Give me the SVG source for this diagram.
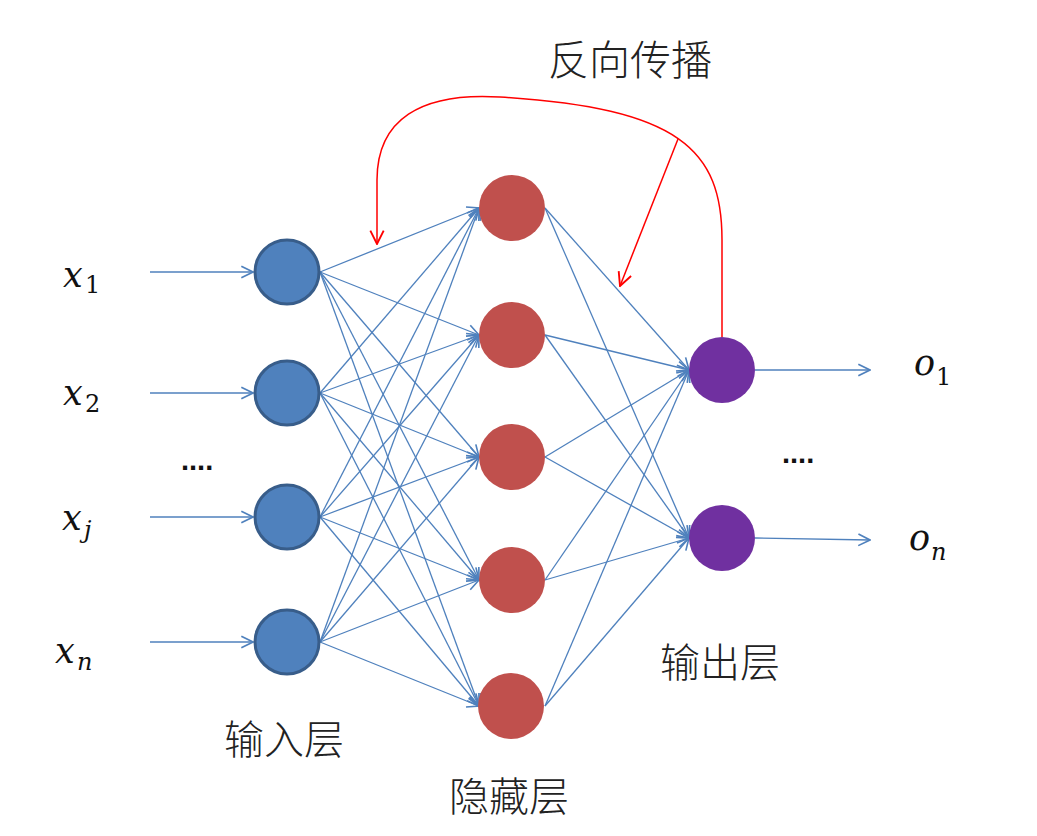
<svg xmlns="http://www.w3.org/2000/svg" width="1037" height="836" viewBox="0 0 1037 836">
<defs>
<marker id="ab" markerUnits="userSpaceOnUse" markerWidth="14" markerHeight="14" viewBox="0 0 12 12" refX="11" refY="6" orient="auto">
<path d="M1,1 L11,6 L1,11" fill="none" stroke="#4f81bd" stroke-width="1.4"/>
</marker>
<marker id="ar" markerUnits="userSpaceOnUse" markerWidth="16" markerHeight="16" viewBox="0 0 12 12" refX="11" refY="6" orient="auto">
<path d="M1,1 L11,6 L1,11" fill="none" stroke="#ff0000" stroke-width="1.4"/>
</marker>
<style>
.c{stroke:#4f81bd;stroke-width:1.3;fill:none;marker-end:url(#ab)}
.r{stroke:#ff0000;stroke-width:1.5;fill:none;marker-end:url(#ar)}
.in{fill:#4f81bd;stroke:#385d8a;stroke-width:3}
.hid{fill:#c0504d}
.out{fill:#7030a0}
.m{font-family:"DejaVu Serif","Liberation Serif",serif;font-style:italic;fill:#111}
.big{font-size:35px}
.sub{font-size:24px}
.up{font-style:normal}
.lab{font-family:"Noto Sans CJK SC","Noto Sans",sans-serif;font-size:40px;font-weight:300;fill:#222;text-anchor:middle}
.dots{font-family:"Liberation Sans",sans-serif;font-size:29px;font-weight:bold;fill:#111}
</style>
</defs>
<rect width="1037" height="836" fill="#ffffff"/>
<g id="connectors">
<line class="c" x1="150" y1="272" x2="253" y2="272"/>
<line class="c" x1="150" y1="393" x2="253" y2="393"/>
<line class="c" x1="150" y1="517" x2="253" y2="517"/>
<line class="c" x1="150" y1="642" x2="253" y2="642"/>
<line class="c" x1="320" y1="272" x2="479" y2="208"/>
<line class="c" x1="320" y1="272" x2="479" y2="335"/>
<line class="c" x1="320" y1="272" x2="479" y2="457"/>
<line class="c" x1="320" y1="272" x2="479" y2="580"/>
<line class="c" x1="320" y1="272" x2="479" y2="706"/>
<line class="c" x1="320" y1="393" x2="479" y2="208"/>
<line class="c" x1="320" y1="393" x2="479" y2="335"/>
<line class="c" x1="320" y1="393" x2="479" y2="457"/>
<line class="c" x1="320" y1="393" x2="479" y2="580"/>
<line class="c" x1="320" y1="393" x2="479" y2="706"/>
<line class="c" x1="320" y1="517" x2="479" y2="208"/>
<line class="c" x1="320" y1="517" x2="479" y2="335"/>
<line class="c" x1="320" y1="517" x2="479" y2="457"/>
<line class="c" x1="320" y1="517" x2="479" y2="580"/>
<line class="c" x1="320" y1="517" x2="479" y2="706"/>
<line class="c" x1="320" y1="642" x2="479" y2="208"/>
<line class="c" x1="320" y1="642" x2="479" y2="335"/>
<line class="c" x1="320" y1="642" x2="479" y2="457"/>
<line class="c" x1="320" y1="642" x2="479" y2="580"/>
<line class="c" x1="320" y1="642" x2="479" y2="706"/>
<line class="c" x1="545" y1="208" x2="689" y2="370"/>
<line class="c" x1="545" y1="208" x2="689" y2="538"/>
<line class="c" x1="545" y1="335" x2="689" y2="370"/>
<line class="c" x1="545" y1="335" x2="689" y2="538"/>
<line class="c" x1="545" y1="457" x2="689" y2="370"/>
<line class="c" x1="545" y1="457" x2="689" y2="538"/>
<line class="c" x1="545" y1="580" x2="689" y2="370"/>
<line class="c" x1="545" y1="580" x2="689" y2="538"/>
<line class="c" x1="545" y1="706" x2="689" y2="370"/>
<line class="c" x1="545" y1="706" x2="689" y2="538"/>
<line class="c" x1="755" y1="370" x2="870" y2="370"/>
<line class="c" x1="755" y1="538" x2="870" y2="540"/>
<path class="r" d="M722,337 L722,240 C722,150 680,108 500,97 C420,92 377,120 377,180 L377,244"/>
<line class="r" x1="678" y1="139" x2="620" y2="286"/>
</g>
<g id="in1"><circle class="in" cx="287" cy="272" r="32"/></g>
<g id="in2"><circle class="in" cx="287" cy="393" r="32"/></g>
<g id="in3"><circle class="in" cx="287" cy="517" r="32"/></g>
<g id="in4"><circle class="in" cx="287" cy="642" r="32"/></g>
<g id="h1"><circle class="hid" cx="512" cy="208" r="33"/></g>
<g id="h2"><circle class="hid" cx="512" cy="335" r="33"/></g>
<g id="h3"><circle class="hid" cx="512" cy="457" r="33"/></g>
<g id="h4"><circle class="hid" cx="512" cy="580" r="33"/></g>
<g id="h5"><circle class="hid" cx="511" cy="706" r="33"/></g>
<g id="o1"><circle class="out" cx="722" cy="370" r="33"/></g>
<g id="o2"><circle class="out" cx="722" cy="538" r="33"/></g>
<g id="labels">
<text class="m big" x="63" y="287">x</text><text class="m sub up" x="85" y="293">1</text>
<text class="m big" x="63" y="405">x</text><text class="m sub up" x="85" y="412">2</text>
<text class="m big" x="62" y="530">x</text><text class="m sub" x="84" y="538">j</text>
<text class="m big" x="55" y="663">x</text><text class="m sub" x="77" y="670">n</text>
<text class="m big" x="914" y="375">o</text><text class="m sub up" x="936" y="385">1</text>
<text class="m big" x="909" y="550">o</text><text class="m sub" x="931" y="560">n</text>
<text class="dots" x="181" y="470">....</text>
<text class="dots" x="782" y="463">....</text>
<text class="lab" x="284" y="754">输入层</text>
<text class="lab" x="509" y="811">隐藏层</text>
<text class="lab" x="720" y="677">输出层</text>
<text class="lab" x="630" y="75" style="font-size:41px">反向传播</text>
</g>
</svg>
